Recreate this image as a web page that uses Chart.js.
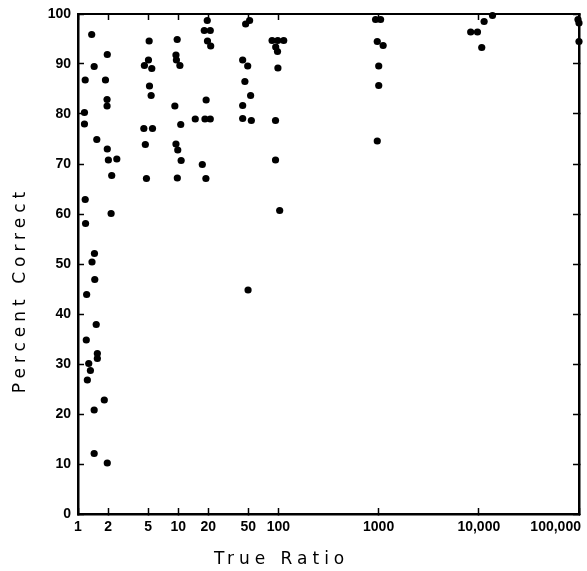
<!DOCTYPE html>
<html>
<head>
<meta charset="utf-8">
<script src="https://cdn.jsdelivr.net/npm/chart.js@4"></script>
<style>
  html, body { margin: 0; padding: 0; background: #fff; }
  #c { display: block; }
</style>
</head>
<body>
<canvas id="c" width="587" height="571"></canvas>
<script>
// ---- data ----
const trueRatio = [
  1.37, 1.45, 1.18, 1.16, 1.16, 1.54, 1.96, 1.88, 1.95, 1.95, 1.96, 2.01, 2.44, 2.17,
  1.18, 2.14, 1.19, 1.46, 1.38, 1.47, 1.22, 1.52, 1.21, 1.56, 1.56, 1.28, 1.33, 1.24,
  1.45, 1.83, 1.45, 1.96,
  5.13, 5.05, 4.6, 5.45, 5.17, 5.37, 4.54, 5.54, 4.7, 4.82,
  9.77, 9.5, 9.6, 10.4, 9.26, 10.6, 9.5, 9.9, 10.7, 9.8,
  19.5, 18.2, 20.9, 19.6, 21.1, 19.0, 14.8, 18.5, 20.9, 17.4, 18.9,
  47.1, 51.6, 44.0, 49.4, 46.3, 52.8, 44.0, 44.0, 53.7, 49.8,
  86.5, 98.5, 113, 94, 98, 98.9, 93.6, 93.6, 103,
  933, 1047, 970, 1110, 1003, 1003, 970,
  8300, 9700, 10700, 11300, 13700,
  97700, 100000, 100000
];
const percentCorrect = [
  95.9, 89.5, 86.8, 80.3, 78.0, 74.9, 91.9, 86.8, 82.9, 81.6, 73.0, 70.8, 71.0, 67.7,
  62.9, 60.1, 58.1, 52.1, 50.4, 46.9, 43.9, 37.9, 34.8, 32.1, 31.1, 30.1, 28.7, 26.8,
  20.8, 22.8, 12.1, 10.2,
  94.6, 90.8, 89.7, 89.1, 85.6, 83.7, 77.1, 77.1, 73.9, 67.1,
  94.9, 91.8, 90.8, 89.7, 81.6, 77.9, 74.0, 72.8, 70.7, 67.2,
  98.7, 96.7, 96.7, 94.6, 93.6, 82.8, 79.0, 79.0, 79.0, 69.9, 67.1,
  98.0, 98.7, 90.8, 89.6, 86.5, 83.7, 81.7, 79.1, 78.7, 44.8,
  94.7, 94.7, 94.7, 93.4, 92.5, 89.2, 78.7, 70.8, 60.7,
  98.9, 98.9, 94.5, 93.7, 89.6, 85.7, 74.6,
  96.4, 96.4, 93.3, 98.5, 99.7,
  98.9, 98.2, 94.5
];
const xTickValues = [1, 2, 5, 10, 20, 50, 100, 1000, 10000, 100000];
const xTickLabels = ['1', '2', '5', '10', '20', '50', '100', '1000', '10,000', '100,000'];
const yTickValues = [0, 10, 20, 30, 40, 50, 60, 70, 80, 90, 100];
const xTitle = 'True Ratio';
const yTitle = 'Percent Correct';

// ---- chart ----
const points = trueRatio.map((x, i) => ({ x: x, y: percentCorrect[i] }));

const TICK_FONT = { family: 'Liberation Sans', size: 14, weight: 'bold' };
const TITLE_FONT = { family: 'DejaVu Sans', size: 17, weight: 'normal' };

const spacingPlugin = {
  id: 'spacing',
  beforeDraw(chart) {
    const ctx = chart.ctx;
    if (!ctx.__wrapped) {
      const f = ctx.fillText;
      ctx.fillText = function (t, x, y, m) {
        this.letterSpacing = /17px/.test(this.font) ? '5px' : '0px';
        return m === undefined ? f.call(this, t, x, y) : f.call(this, t, x, y, m);
      };
      ctx.__wrapped = true;
    }
  }
};

const axisBorder = { display: true, color: '#000', width: 2.5 };
const tickGrid = { display: true, drawOnChartArea: false, drawTicks: true, tickLength: -6, tickColor: '#000', tickWidth: 1.5 };
const noPad = (axis) => { axis.paddingLeft = 0; axis.paddingRight = 0; axis.paddingTop = 0; axis.paddingBottom = 0; };

new Chart(document.getElementById('c'), {
  type: 'scatter',
  data: {
    datasets: [{
      data: points,
      pointRadius: 3.6,
      pointHoverRadius: 3.6,
      backgroundColor: '#000',
      borderWidth: 0,
      clip: false
    }]
  },
  options: {
    responsive: false,
    animation: false,
    devicePixelRatio: 1,
    layout: { padding: { left: 0, top: 14, right: 8, bottom: 0 } },
    plugins: { legend: { display: false }, tooltip: { enabled: false } },
    scales: {
      x: {
        type: 'logarithmic',
        position: 'bottom',
        min: 1, max: 100000,
        border: axisBorder,
        grid: tickGrid,
        afterBuildTicks: (axis) => { axis.ticks = xTickValues.map(v => ({ value: v })); },
        afterFit: (axis) => { axis.height = 57; noPad(axis); },
        ticks: {
          autoSkip: false, maxRotation: 0, minRotation: 0,
          color: '#000', font: TICK_FONT, padding: 11,
          callback: (v, i) => i === xTickLabels.length - 1 ? xTickLabels[i] + '            ' : xTickLabels[i]
        },
        title: { display: true, text: xTitle + '         ', color: '#000', font: TITLE_FONT, padding: { top: 0, bottom: 1 } }
      },
      x2: {
        type: 'logarithmic',
        position: 'top',
        min: 1, max: 100000,
        border: { display: true, color: '#000', width: 2 },
        grid: tickGrid,
        afterBuildTicks: (axis) => { axis.ticks = xTickValues.map(v => ({ value: v })); },
        afterFit: (axis) => { axis.height = 0; noPad(axis); },
        ticks: { display: false }
      },
      y: {
        type: 'linear',
        position: 'left',
        min: 0, max: 100,
        border: axisBorder,
        grid: tickGrid,
        afterBuildTicks: (axis) => { axis.ticks = yTickValues.map(v => ({ value: v })); },
        afterFit: (axis) => { axis.width = 78; noPad(axis); },
        ticks: { color: '#000', font: TICK_FONT, padding: 13 },
        title: { display: true, text: yTitle + '     ', color: '#000', font: TITLE_FONT, padding: { top: 10, bottom: 0 } }
      },
      y2: {
        type: 'linear',
        position: 'right',
        min: 0, max: 100,
        border: axisBorder,
        grid: tickGrid,
        afterBuildTicks: (axis) => { axis.ticks = yTickValues.map(v => ({ value: v })); },
        afterFit: (axis) => { axis.width = 0; noPad(axis); },
        ticks: { display: false }
      }
    }
  },
  plugins: [spacingPlugin]
});
</script>
</body>
</html>
